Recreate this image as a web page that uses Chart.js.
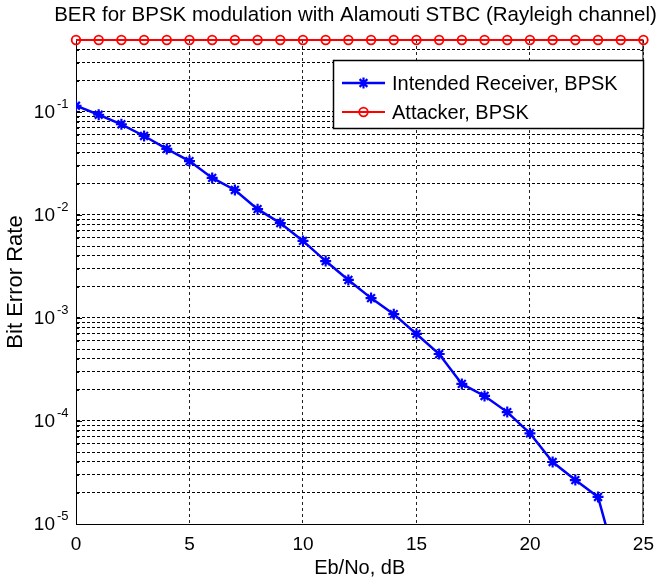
<!DOCTYPE html>
<html>
<head>
<meta charset="utf-8">
<title>BER for BPSK modulation with Alamouti STBC</title>
<script src="https://cdn.jsdelivr.net/npm/chart.js@4.4.1/dist/chart.umd.min.js"></script>
<style>
  html, body { margin: 0; padding: 0; background: #fff; }
</style>
</head>
<body>
<canvas id="ber-chart" width="663" height="585"></canvas>
<script>
// values
const ebno = [0, 1, 2, 3, 4, 5, 6, 7, 8, 9, 10, 11, 12, 13, 14, 15, 16, 17, 18, 19, 20, 21, 22, 23, 24];
const berIntended = [0.115, 0.094, 0.076, 0.0585, 0.0438, 0.0334, 0.0229, 0.0175, 0.0114, 0.00835,
    0.0056, 0.00357, 0.00234, 0.00156, 0.00109, 0.0007, 0.000447, 0.000229, 0.000175, 0.000122,
    0.000076, 0.00004, 0.0000267, 0.0000183, 0.0000029];

const ebnoAttacker = [0, 1, 2, 3, 4, 5, 6, 7, 8, 9, 10, 11, 12, 13, 14, 15, 16, 17, 18, 19, 20, 21, 22, 23, 24, 25];
const berAttacker = [0.5, 0.5, 0.5, 0.5, 0.5, 0.5, 0.5, 0.5, 0.5, 0.5, 0.5, 0.5, 0.5,
    0.5, 0.5, 0.5, 0.5, 0.5, 0.5, 0.5, 0.5, 0.5, 0.5, 0.5, 0.5, 0.5];

const seriesNames = ['Intended Receiver, BPSK', 'Attacker, BPSK'];
const xTicks = [0, 5, 10, 15, 20, 25];
const yDecades = [-5, -4, -3, -2, -1];
const yMantissas = [1, 2, 3, 4, 5, 6, 7, 8, 9];

const FONT = '"Liberation Sans", Arial, Helvetica, sans-serif';
Chart.defaults.font.family = FONT;
Chart.defaults.color = '#000';

// minor log grid: 1..9 x 10^k, up to the axis top
const yGridValues = [];
for (const e of yDecades) {
    for (const m of yMantissas) {
        const v = m * Math.pow(10, e);
        if (v <= 0.5) yGridValues.push(v);
    }
}

function toPoints(xs, ys) {
    return xs.map((x, i) => ({ x: x, y: ys[i] }));
}

// frame, title, y tick labels with exponents, legend box
const matlabLook = {
    id: 'matlabLook',
    beforeDatasetsDraw(chart) {
        const { ctx, chartArea } = chart;
        const yScale = chart.scales.y;
        ctx.save();
        ctx.setLineDash([]);
        ctx.strokeStyle = '#000';
        ctx.lineWidth = 1;
        ctx.strokeRect(chartArea.left + 0.5, chartArea.top + 0.5,
            chartArea.right - chartArea.left - 1, chartArea.bottom - chartArea.top);
        // small inward tick marks on left and right edges
        ctx.beginPath();
        for (const v of yGridValues) {
            const y = Math.round(yScale.getPixelForValue(v)) + 0.5;
            const len = (Math.log10(v) % 1 === 0) ? 6 : 3;
            ctx.moveTo(chartArea.left, y);
            ctx.lineTo(chartArea.left + len, y);
            ctx.moveTo(chartArea.right, y);
            ctx.lineTo(chartArea.right - len, y);
        }
        ctx.stroke();
        ctx.restore();
    },
    afterDraw(chart) {
        const { ctx } = chart;
        const yScale = chart.scales.y;
        ctx.save();

        // title
        ctx.fillStyle = '#000';
        ctx.font = '20.5px ' + FONT;
        ctx.textAlign = 'center';
        ctx.textBaseline = 'middle';
        ctx.fillText('BER for BPSK modulation with Alamouti STBC (Rayleigh channel)', 355.5, 15);

        // y tick labels 10^k
        for (const e of yDecades) {
            const y = yScale.getPixelForValue(Math.pow(10, e));
            ctx.font = '19px ' + FONT;
            ctx.textAlign = 'right';
            ctx.textBaseline = 'middle';
            ctx.fillText('10', 55, y + 1);
            ctx.font = '13px ' + FONT;
            ctx.textAlign = 'left';
            ctx.fillText('-' + Math.abs(e), 57, y - 8);
        }

        // legend
        const lx = 333, ly = 60, lw = 310, lh = 68;
        ctx.fillStyle = '#fff';
        ctx.fillRect(lx, ly, lw, lh);
        ctx.strokeStyle = '#000';
        ctx.lineWidth = 1.5;
        ctx.setLineDash([]);
        ctx.strokeRect(lx + 0.5, ly + 0.5, lw, lh);

        const rows = [83, 112];
        chart.data.datasets.forEach((ds, i) => {
            const y = rows[i];
            ctx.strokeStyle = ds.borderColor;
            ctx.lineWidth = ds.borderWidth;
            ctx.beginPath();
            ctx.moveTo(342, y);
            ctx.lineTo(385, y);
            ctx.stroke();
            ctx.fillStyle = ds.pointBackgroundColor;
            ctx.strokeStyle = ds.pointBorderColor;
            ctx.lineWidth = ds.pointBorderWidth;
            Chart.helpers.drawPoint(ctx, {
                pointStyle: ds.pointStyle, radius: ds.pointRadius,
                rotation: 0, borderWidth: ds.pointBorderWidth
            }, 363.5, y);
            ctx.fillStyle = '#000';
            ctx.font = '20px ' + FONT;
            ctx.textAlign = 'left';
            ctx.textBaseline = 'middle';
            ctx.fillText(ds.label, 392, y + 1);
        });
        ctx.restore();
    }
};

const ctx = document.getElementById('ber-chart').getContext('2d');
const berChart = new Chart(ctx, {
    type: 'line',
    data: {
        datasets: [{
            label: seriesNames[0],
            data: toPoints(ebno, berIntended),
            borderColor: '#0000ff',
            borderWidth: 2.5,
            pointStyle: 'star',
            pointRadius: 5.5,
            pointBorderWidth: 2.2,
            pointBackgroundColor: '#0000ff',
            pointBorderColor: '#0000ff',
            tension: 0
        }, {
            label: seriesNames[1],
            data: toPoints(ebnoAttacker, berAttacker),
            borderColor: '#ff0000',
            borderWidth: 2,
            pointStyle: 'circle',
            pointRadius: 4.3,
            pointBorderWidth: 1.8,
            pointBackgroundColor: 'rgba(0,0,0,0)',
            pointBorderColor: '#ff0000',
            tension: 0,
            clip: false
        }]
    },
    options: {
        responsive: false,
        devicePixelRatio: 1,
        animation: false,
        layout: { padding: { left: 0, right: 18, top: 40, bottom: 0 } },
        plugins: {
            legend: { display: false },
            title: { display: false },
            tooltip: { enabled: false }
        },
        scales: {
            x: {
                type: 'linear',
                min: 0,
                max: 25,
                afterBuildTicks: scale => { scale.ticks = xTicks.map(v => ({ value: v })); },
                ticks: { font: { size: 19 }, color: '#000', padding: 9, maxRotation: 0, autoSkip: false },
                grid: { color: '#222', lineWidth: 1, drawTicks: false },
                border: { display: true, color: '#000', dash: [3, 3] },
                title: { display: true, text: 'Eb/No, dB', font: { size: 20 }, color: '#000', padding: { top: 0, bottom: 5 } },
                afterFit: scale => { scale.height = 61; }
            },
            y: {
                type: 'logarithmic',
                min: 1e-5,
                max: 0.5,
                afterBuildTicks: scale => { scale.ticks = yGridValues.map(v => ({ value: v })); },
                ticks: { display: false, autoSkip: false },
                grid: { color: '#000', lineWidth: 1, drawTicks: false },
                border: { display: true, color: '#000', dash: [3, 2] },
                title: { display: true, text: 'Bit Error Rate', font: { size: 22 }, color: '#000', padding: { top: 3, bottom: 0 } },
                afterFit: scale => { scale.width = 76; }
            }
        }
    },
    plugins: [matlabLook]
});
</script>
</body>
</html>
